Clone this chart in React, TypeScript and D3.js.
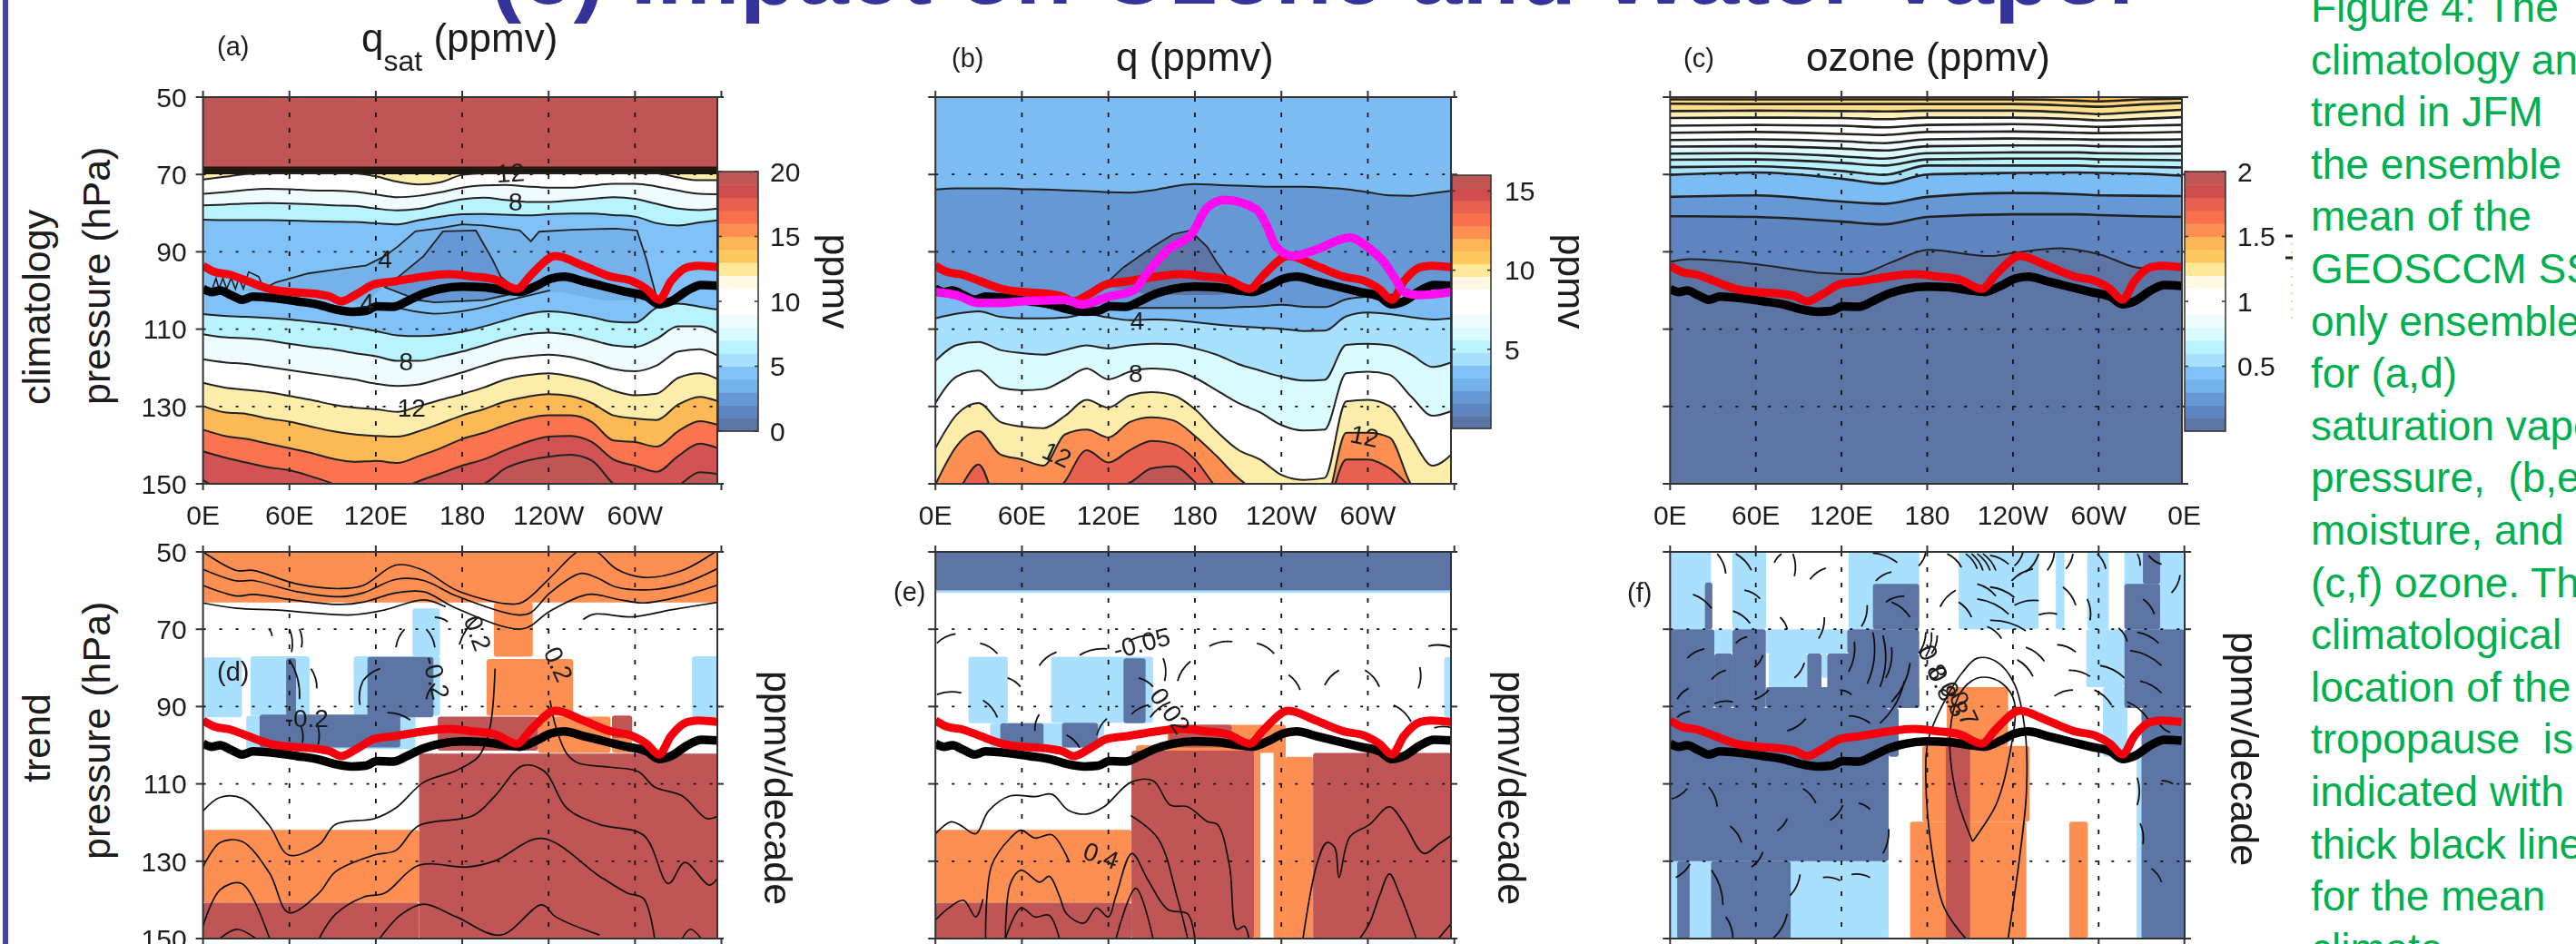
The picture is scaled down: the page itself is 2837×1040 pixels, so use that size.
import React from "react";
import * as d3 from "d3";

// longitude grid shared by the filled contour bands
const LON_GRID = [0, 15, 30, 45, 60, 75, 90, 105, 120, 135, 150, 165, 180, 195, 210, 225, 240, 255, 270, 285, 300, 315, 330, 345, 358];
const OZONE_GRID = [0, 60, 120, 150, 180, 240, 285, 300, 330, 358];

const X_LABELS = ["0E", "60E", "120E", "180", "120W", "60W", "0E"];
const P_TICKS = [50, 70, 90, 110, 130, 150];
const LON_TICKS = [0, 60, 120, 180, 240, 300, 360];

// colour bar levels, bottom to top
const LEVELS = ["#5c75a5", "#5f85c0", "#6598d5", "#74b2ea", "#80c2f8", "#a8e0ff", "#b9f3ff", "#d9fbff", "#eefcff", "#ffffff", "#ffffff", "#fff8e5", "#fee89a", "#fec860", "#fdb655", "#fd8f52", "#f96f4d", "#e8604f", "#cf4e4e", "#c05555"];

// tropopause, lon / hPa
const TROP_BLACK = [[0, 99.6], [6, 100.4], [11.8, 100], [19.5, 101.2], [27, 102.4], [34.8, 101.6], [50, 102], [65.3, 102.8], [80.6, 103.7], [92, 104.9], [103.5, 105.5], [113, 105.3], [120.7, 104.1], [132, 104.2], [141.7, 102.8], [153.2, 100.8], [164.6, 99.6], [180, 99], [195, 99.2], [210.5, 100], [220, 100.4], [231.5, 98.8], [241, 97], [250.6, 96.4], [264, 97.6], [279, 99], [294.5, 100.4], [308, 101.6], [316.7, 103.6], [325, 102.8], [336.5, 100], [346, 98.6], [358, 98.8]];
const TROP_RED = [[0, 93.6], [8, 95.2], [19.5, 96], [31, 97.6], [46.2, 99.6], [61.5, 100.4], [76.8, 100.8], [88.2, 101.6], [95.9, 102.8], [107.3, 100.8], [118.8, 98.4], [134, 97.6], [153.2, 96.4], [170.4, 95.8], [187.6, 96.4], [202.8, 97.2], [218.1, 99.6], [227.7, 96], [244.9, 91.1], [264, 93.6], [283, 96.4], [298.3, 97.6], [308, 99.6], [316.7, 102.4], [325, 97.6], [336.5, 94], [344.2, 93.6], [358, 94]];
const TROP_MAGENTA = [[0, 100.4], [14.3, 101.2], [30, 103.2], [45, 103.2], [60, 102.8], [75, 102.6], [90, 102.4], [101.4, 103.6], [120, 101.6], [137.3, 100], [147.5, 95.2], [161.2, 89.5], [178.3, 85.1], [188.5, 78.6], [200.5, 76.6], [222.7, 79], [229.5, 83], [236.3, 88.7], [248.3, 91.1], [263.6, 89.5], [287.5, 86.3], [299.5, 88.7], [311.4, 92.8], [320, 97.6], [325, 100.4], [335.4, 101.2], [358, 100.4]];

// (a) saturation contours on LON_GRID, hPa
const A_STACK = [68.2, 68.6, 69, 69.4, 69.7];
const A0 = LON_GRID.map(() => 69.7);
const A1 = [71.3, 70.6, 69.9, 69.7, 69.7, 69.7, 69.7, 69.7, 70.5, 71.9, 72.6, 72, 70.1, 69.7, 69.7, 69.7, 69.7, 69.7, 69.7, 69.7, 69.7, 69.7, 70.8, 71.5, 71.5];
const A2 = [75, 74.6, 74, 73.7, 73.8, 74.1, 74.2, 74.5, 75.2, 75.9, 75.5, 74.6, 73.4, 72.8, 72.7, 73.1, 73.4, 73.4, 72.9, 72.4, 72.4, 73.1, 74.2, 75, 75.1];
const A3 = [78, 77.8, 77.5, 77.4, 77.5, 77.7, 78, 78.1, 78.8, 79.3, 78.9, 77.6, 76.4, 76, 76.6, 77.1, 77.1, 76.7, 76.3, 75.9, 76.3, 77.6, 78.8, 79.2, 78.8];
const A4 = [81.7, 81.8, 81.8, 81.8, 81.9, 82.1, 82.2, 82.3, 82.6, 82.9, 81.8, 80.9, 80.3, 80.2, 80.4, 80.6, 80.3, 80.1, 80.1, 80.5, 80.9, 82.6, 83.2, 82.4, 81.8];
const A6 = [106.1, 106.6, 106.8, 107.1, 107.5, 108.1, 108.7, 109.5, 110.5, 111.6, 111.8, 111.5, 110.7, 109.3, 107.7, 106.1, 105.4, 105.9, 106.9, 108.1, 108.3, 104.5, 103.4, 104.2, 105];
const A7 = [111.3, 112.1, 112.4, 112.9, 113.8, 114.6, 115.2, 116.2, 117, 118.2, 118.2, 117.1, 115.8, 114.2, 112.5, 111.3, 110.9, 111.5, 112.8, 114.2, 114.6, 112.5, 109.3, 109.3, 111.2];
const A8 = [117.8, 118.6, 119, 119.8, 120.6, 121.4, 122.2, 123, 124.1, 124.7, 124.3, 122.8, 121.2, 119.4, 117.8, 117, 116.6, 117.2, 118.6, 120.3, 120.9, 119.4, 115.8, 115.2, 117];
const A9 = [123.9, 125.1, 125.7, 126.3, 127.3, 128.3, 129.5, 130.3, 130.7, 131.4, 129.9, 128.3, 126.8, 125.1, 123, 121.9, 121.4, 122.2, 123.6, 125.9, 127.1, 126.7, 122.6, 121.4, 123];
const A10 = [129.9, 131.5, 131.9, 133.1, 133.9, 135.2, 136.4, 137.2, 137.6, 137.8, 136.4, 134.4, 132.3, 130.7, 128.7, 127.5, 126.8, 127.3, 129.1, 132.3, 133.1, 133.5, 129.5, 127.5, 128.7];
const A11 = [136, 137.6, 138.4, 139.6, 140.8, 142, 143.5, 144.3, 144.1, 144.6, 142.8, 140.8, 138.4, 136.8, 134.8, 133.1, 132.3, 132.3, 134, 138.8, 139.2, 140.4, 136.4, 133.8, 134.8];
const A12 = [141.6, 143.2, 144.5, 145.7, 146.5, 148.1, 150, 153.3, 154.2, 151.7, 149.3, 147.3, 145.3, 143.7, 141.3, 139.2, 137.8, 137.6, 139.2, 143.7, 145.3, 146.9, 142.8, 139.6, 140.8];
const A13 = [149, 152, 153, 153, 153, 153, 153, 153, 153, 153, 153, 152, 151, 150, 146, 144, 143, 142.5, 144, 150, 153, 153, 150.5, 147, 147.5];
const A_POLY_OUTER = [[50, 98], [73, 95.6], [88, 94.8], [103.5, 94], [113, 93.6], [126.4, 91.1], [135, 88.7], [147.5, 84.7], [164.6, 83.9], [180, 82.9], [195, 83.2], [220, 84.5], [227.7, 87.3], [233.4, 84.8], [256.3, 84.3], [287, 84], [301.4, 84.5], [308, 92], [315.5, 102.5], [294.5, 102.5], [279, 102.6], [264, 101.6], [248.7, 100.4], [233.4, 100.4], [214, 101.6], [195, 102.9], [164.6, 103.1], [149.4, 102.9], [134, 99.2], [126, 98.8], [111, 104], [88, 100.9], [38.6, 100], [27, 100]];
const A_POLY_INNER = [[166.6, 84.7], [189.5, 84.5], [201, 92], [206.7, 96.4], [220, 100.4], [195, 102.5], [160.8, 103.1], [149.4, 102.5], [126.4, 99.2], [136, 96.4], [153.2, 91.1]];
const A_LINE = [[134, 104.4], [161, 106], [187.5, 104.9], [214, 102.4], [241, 100]];
const A_JAG = [[6, 100], [9, 96.8], [11, 99.6], [13.8, 96.8], [16.4, 99.6], [19.5, 96.8], [22.5, 99.6], [25, 96.8], [28, 99.6], [31.7, 95.2], [38.6, 96.4], [42.4, 99.6], [50, 98]];
const A_LABELS = [["12", 213.5, 69.5, -4], ["8", 217, 77, 0], ["4", 126.4, 91.8, 0], ["4", 114, 103, 0], ["8", 141, 118.2, 0], ["12", 144.8, 130.3, 0]];

// (b) specific humidity
const B1 = [73.9, 73.6, 73.6, 73.6, 73.8, 73.9, 74.1, 74.3, 74.6, 74.7, 74.1, 73.1, 72.5, 72.7, 72.9, 73.1, 73.2, 73.2, 73.4, 73.8, 74.6, 75.4, 75.5, 74.8, 74.2];
const B2 = [98.8, 100.8, 101.6, 102, 102.4, 102.8, 104.5, 105.7, 104.5, 104.5, 104.5, 104.5, 104.5, 104.5, 104.3, 104.1, 103.7, 104.2, 104.3, 102.3, 101.6, 101.2, 100.4, 99.2, 99.6];
const B3 = [107.2, 106, 105.4, 106.8, 107.2, 107.2, 107, 106.1, 107, 107.7, 107.5, 107.7, 108.2, 108.8, 109.3, 109.6, 109.9, 110.5, 110.4, 106.7, 105.7, 106.1, 106.9, 107.5, 107.2];
const B4 = [118.2, 114.1, 113.3, 115.4, 116.2, 116.6, 115.4, 114.2, 115, 114.2, 113.8, 113.9, 115, 116.6, 119, 120.7, 122.3, 123.3, 123.1, 114.1, 113.8, 114.2, 116.6, 119.8, 118.6];
const B5 = [129.1, 122.2, 120.7, 125.1, 125.8, 125.5, 123, 120.2, 123, 121, 120.2, 120.6, 122.6, 125.8, 129.1, 131.5, 134.8, 136.2, 136, 121.4, 121, 121.8, 127.4, 132.4, 131.2];
const B6 = [140.8, 132, 129.1, 134, 135.2, 135.6, 132.4, 128.3, 130.3, 127.1, 126.3, 127.1, 130.7, 136.4, 141.2, 143.7, 147.7, 149, 148.5, 128.7, 128.3, 129.9, 138, 145.3, 142.4];
const B7 = [150.2, 140.1, 136.4, 142.4, 143.7, 145.3, 137.2, 136, 138, 134, 132.8, 133.6, 137.6, 142.8, 148.5, 152.5, 155, 155, 155, 136.8, 136.8, 138, 150.2, 155, 155];
const B8 = [156, 152, 145, 156, 156, 156, 149.3, 141.3, 144.5, 141.3, 138.9, 139.7, 143.7, 151, 156, 156, 156, 156, 156, 143.7, 143.7, 146, 151, 156, 156];
const B9 = [156, 156, 156, 156, 156, 156, 156, 152, 151, 149.7, 146, 145.5, 149.5, 156, 156, 156, 156, 156, 156, 156, 156, 156, 156, 156, 156];
const B_POLY = [[116.8, 98.8], [130.5, 94], [151, 88.7], [164.6, 85.5], [176.6, 84.5], [188.5, 88.7], [195.3, 92.8], [203, 96.8], [216, 100.4], [195.3, 101.2], [168, 101.2], [147.5, 101.2], [135.6, 100]];
const B_LABELS = [["4", 140, 107.7, 0], ["8", 139, 121.4, 0], ["12", 84.4, 142.4, 25], ["12", 297.8, 137.6, 12]];

// (c) ozone contours on OZONE_GRID
const C1 = [50.6, 50.6, 50.6, 50.6, 50.6, 50.6, 50.9, 51.1, 50.6, 50.4];
const C2 = [51.7, 51.8, 51.8, 51.8, 51.8, 51.8, 52.3, 52.5, 51.9, 51.5];
const C3 = [53.6, 53.5, 53.6, 53.7, 53.5, 53.5, 54.1, 54.4, 53.8, 53.3];
const C4 = [55.4, 55.3, 55.4, 55.7, 55.3, 55.3, 55.7, 56, 55.6, 55.2];
const C5 = [57.4, 57.2, 57.4, 57.8, 57.2, 57, 57.5, 57.7, 57.4, 57.2];
const C6 = [59.2, 59, 59.5, 59.8, 59, 58.9, 59.2, 59.3, 59.2, 59];
const C7 = [61.1, 60.9, 61.4, 61.9, 60.9, 60.7, 60.9, 61, 61, 60.9];
const C8 = [62.8, 62.7, 63.3, 63.8, 62.7, 62.5, 62.5, 62.7, 62.8, 62.7];
const C9 = [64.6, 64.5, 65.3, 65.9, 64.5, 64.3, 64.3, 64.5, 64.6, 64.6];
const C10 = [66.2, 66.1, 67, 67.7, 66.1, 65.9, 65.9, 66.1, 66.2, 66.3];
const C11 = [68.1, 67.9, 69.1, 70.1, 67.7, 67.7, 67.7, 67.9, 68, 68.2];
const C12 = [70.1, 69.5, 71.1, 72.4, 70, 69.6, 69.5, 69.6, 69.8, 70.3];
const C13 = [75.8, 75.4, 77, 77.6, 75.8, 74.8, 75.1, 75.4, 75.5, 75.6];
const C14 = [80.8, 81, 82.2, 82.9, 81, 80.3, 80.3, 80.5, 80.8, 81];
const C15 = [[0, 92.6], [13.7, 91.9], [60, 93.2], [103.7, 95.4], [131.6, 95.8], [155, 92.7], [180.9, 89.5], [223.7, 91.1], [240, 90.3], [273, 89.1], [300.9, 90.7], [330, 94.2], [358, 93.1]];

// (d) q_sat trend: shading boxes [lon0, lon1, p0, p1] and contours
const D_ORANGE = [[0, 358, 50, 63.1], [202, 229, 63, 77.1], [197, 257, 77.7, 92.4], [232.6, 283, 92.6, 102], [284, 298, 92.4, 102], [0, 150, 121.9, 140.7]];
const D_RED = [[163, 232.6, 92.6, 101.4], [284, 298, 92.4, 98.2], [150, 358, 102.2, 150], [0, 150, 140.7, 150]];
const D_LIGHT = [[145.5, 164.6, 64.6, 77.1], [0, 27, 77.3, 92.8], [33, 74, 77, 92.4], [30, 147.5, 92.4, 101], [104.7, 164.6, 77, 92.4], [339.6, 358, 77, 92.8]];
const D_NAVY = [[57.7, 64.6, 77.5, 92.4], [114.2, 160, 77.2, 92.8], [39.3, 137, 92.1, 100.6]];
const D_LINES = [
  [[0, 50], [23.3, 54.8], [34.8, 54.8], [65.3, 58.3], [95.9, 59.5], [111.2, 58.7], [134, 53.4], [153.2, 54.8], [176, 59.9], [210.5, 63.4], [222, 63], [241, 56.7], [260, 50], [267, 49.6], [273.5, 50], [287, 54.4], [306, 56.6], [332.7, 54.8], [355.6, 50]],
  [[0, 54.5], [23.3, 57.5], [34.8, 57.4], [65.3, 60.3], [95.9, 61.6], [111.2, 60.6], [134, 57.1], [153.2, 57.4], [176, 61.4], [218, 66.3], [227.6, 65.7], [241, 60.6], [262, 55.6], [273.5, 56.7], [287, 59.1], [310, 59.8], [332.7, 58.3], [358, 54.2]],
  [[0, 58.7], [23.3, 61.4], [34.8, 61], [65.3, 62.6], [95.9, 63.6], [111.2, 63], [134, 60.6], [153.2, 60.3], [176, 64.6], [222, 69.9], [241, 65.3], [267.7, 61], [287, 62.2], [306, 63.2], [332.7, 61.4], [358, 58.5]],
  [[0, 63.2], [23.3, 64.6], [50, 65], [73, 65.7], [103.5, 66.3], [126.4, 65], [153.2, 62.4], [168.5, 64.2]],
  [[264, 67.5], [271.6, 66.1], [298.3, 66.8], [325, 65], [358, 63]],
  [[0, 117], [11.8, 113.5], [27, 113.7], [46.2, 120.9], [59.5, 128.4], [80.6, 125.7], [92, 120.5], [118.8, 119], [134, 116.2], [153.2, 109.6], [176, 106.5], [191.4, 102.9], [199, 95.9], [202.8, 80.2]],
  [[241, 88.4], [244.9, 95.1], [252.5, 102.1], [260, 104.5], [283, 105.7], [302.2, 106.8], [313.6, 110.8], [332.7, 113.1], [350, 119], [358, 118.2]],
  [[0, 131.5], [11.8, 125.2], [27, 124.9], [46.2, 133.1], [59.5, 143.3], [80.6, 138.2], [92, 132.7], [118.8, 128.4], [134, 127.2], [149.4, 120.9], [187.6, 118.2], [202.8, 113.1], [222, 105.3], [237.3, 106.8], [252.5, 116.2], [275.4, 120.5], [306, 123.3], [323.2, 135.8], [334.6, 130.3], [351.7, 136.2], [358, 133.9]],
  [[0, 146.8], [11.8, 137.4], [27, 135.8], [46.2, 150]],
  [[80.6, 150], [92, 143.7], [111.2, 139.3], [126.4, 138.2], [149.4, 131.1], [183.8, 131.5], [202.8, 129.9], [235.3, 124.1], [275.4, 133.9], [294.5, 138.2], [306, 139.7], [313.6, 150]],
  [[122.6, 150], [137.9, 143.7], [153.2, 141.1], [176, 144.4], [206.7, 149.1], [235.3, 141.3], [245, 144.4], [275.4, 149.1]],
  [[332.7, 150], [338.5, 147.6], [346, 150]],
  [[11.8, 150], [23.3, 147.6], [36.7, 150]],
];
const D_DASHES = [[46, 70, 48, 71.8], [60, 70, 61.5, 75.9], [67, 70, 68.4, 74.7], [134, 74.7, 140, 70], [155, 70, 161, 74.7], [161, 66.9, 170, 68.1], [178, 74, 191, 66.9], [75, 80.2, 79, 85.3], [60, 77.9, 67, 88.1], [109, 89.6, 111, 83.4], [111, 83.4, 123, 80.2], [155, 88.1, 161, 84.1], [128, 91.6, 144, 93.5], [68, 95.1, 69, 99.4], [79, 94.3, 80, 99.8]];
const D_LABELS = [["0.2", 191, 71, 70], ["0.2", 247, 79, 65], ["-0.2", 162, 82.5, 75], ["-0.2", 72, 93, 0]];

// (e) q trend
const E_ORANGE = [[161, 243, 94.7, 102], [139, 161, 100, 102], [221, 225.4, 101.4, 150], [234.6, 243, 94.7, 150], [243, 262, 103, 150], [0, 136, 121.9, 140.7]];
const E_RED = [[162, 205.6, 94.7, 100.6], [136, 221, 101.4, 150], [262, 358, 102, 150], [0, 136, 140.7, 150]];
const E_LIGHT = [[0, 358, 60, 60.6], [22.9, 50.2, 77.1, 94.3], [80.3, 151, 77.1, 94.2], [38, 117, 94.3, 100.6], [353, 358, 77.2, 92.8]];
const E_NAVY = [[0, 358, 50, 60], [130.5, 145.8, 77.5, 94.3], [45, 75, 94.3, 100.6], [87.8, 112.7, 94.2, 100.6]];
const E_LINES = [
  [[0, 122.9], [10.9, 119.8], [17.8, 120.8], [28, 122.9], [36.9, 117], [52, 113.1], [69.4, 113.3], [81, 112.7], [91.7, 116.7], [105, 117.8], [117, 115.9], [135.6, 109.6], [151, 109.2], [163, 115.5], [175, 115.9], [189, 119.8], [195.7, 120.5], [204, 131.2], [209, 147.6], [214.3, 146.8], [217.5, 150]],
  [[34.8, 150], [39, 131.1], [52, 124], [59.4, 122], [69, 124], [81, 123.2], [93, 130.3]],
  [[48.5, 150], [52, 135.8], [59.4, 132.3], [72.2, 135.4], [79, 133.9], [86, 139], [91, 143.6], [103, 146], [111.7, 142.1], [120, 144.4], [125.2, 139], [136.3, 128], [147.5, 134.9], [161.2, 142.5], [174.9, 143.6], [180, 150]],
  [[0, 145.2], [9.2, 142.1], [19.5, 140.1], [28, 144.4], [33, 139.8]],
  [[48.5, 150], [59.4, 142.1], [69, 144.4], [79, 144], [86, 150]],
  [[125.3, 150], [139, 137], [151, 150]],
  [[135.6, 118.2], [154.4, 124.1], [168, 139.7], [175, 150]],
  [[255, 150], [265, 130.3], [271.5, 125.2], [277, 126.4], [280, 134.2], [287.5, 123.7], [301.2, 120.5], [315, 115.9], [325, 120.2], [338.8, 128], [349, 125.6], [358, 123.3]],
  [[294.4, 150], [301.2, 146], [308, 139], [315, 133.3], [321.7, 138.2], [333.6, 150]],
  [[349, 150], [358, 146]],
];
const E_DASHES = [[1, 73.6, 14, 71.2], [31, 73.6, 43, 76.3], [72, 79.4, 84, 75.9], [100, 76.7, 119, 75.1], [134, 73.2, 151, 71.6], [158, 77.5, 159, 83.4], [168, 83.4, 177, 78.3], [190, 74.4, 206, 73.2], [223, 73.6, 235, 76.3], [245, 81.8, 253, 85.7], [270, 84.5, 280, 80.6], [298, 80.6, 308, 84.9], [336, 79.8, 335, 85.3], [342, 74.4, 358, 74.7], [1, 86.9, 18, 86.5], [50, 82.6, 59, 84.9], [33, 88.4, 43, 92.8], [69, 96.3, 72, 92], [91, 97.4, 100, 100.6], [112, 97.4, 119, 93.1], [141, 82.6, 151, 84.9], [149, 92.8, 163, 88.8], [318, 89.6, 330, 93.9], [346, 95.5, 358, 95.5], [136, 92, 148, 89.6]];
const E_LABELS = [["-0.05", 143, 73.5, -15], ["0.02", 163, 91, 55], ["0.4", 115, 128.5, 20]];

// (f) ozone trend
const F_LIGHT = [[0, 28.7, 50, 70], [43.7, 67.3, 50, 70], [125, 174.4, 50, 70], [202, 258, 50, 70], [270, 276, 50, 70], [292, 307, 50, 70], [318, 360, 50, 70], [31, 43.7, 70, 76.3], [67, 124, 70, 76.3], [69, 96, 76.3, 85], [106, 110, 76.3, 82.6], [291.4, 318, 70, 85], [303, 320, 85, 103], [326.6, 331, 103, 150], [0, 153, 130, 150]];
const F_NAVY_TOP = [[24.4, 29.6, 57.9, 70], [142, 174.4, 58.3, 70], [318, 343, 58.3, 70], [331, 343, 50, 58.3]];
const F_NAVY = [[0, 31, 70, 90.4], [43.7, 67, 70, 90.4], [31, 43.7, 76.3, 90.4], [96, 106, 76.3, 90.4], [67, 174.4, 85, 90.4], [110, 174.4, 76.3, 90.4], [124, 174.4, 70, 76.3], [0, 153, 90.4, 130], [153, 160, 90.4, 103], [318, 360, 70, 90.4], [330, 360, 90.4, 150], [5, 13.7, 130, 150], [28.7, 84.4, 130, 150]];
const F_ORANGE = [[193.7, 236.6, 85, 100.2], [176.6, 251.6, 100.2, 119.8], [168, 249.4, 119.8, 150], [279.4, 292.3, 119.8, 150]];
const F_RED = [[193, 210, 100.2, 150]];
const F_LINES = [
  [[207, 150], [192, 142.1], [183.5, 128], [179, 108.4], [181, 98.2], [194, 87.3], [205, 81], [215, 77.5], [228, 78.3], [241, 84.1], [248.6, 96.7], [249.4, 112.3], [245, 128], [236.6, 150]],
  [[211.7, 124.9], [200, 112.3], [196, 96.7], [202, 87.3], [211, 83.4], [220, 82.4], [232.7, 84.1], [241, 88.8], [236.6, 104.5], [228, 115.5], [211.7, 124.9]],
];
const F_DASHES = [[33, 50.5, 39, 55.6], [46, 50.5, 57, 54.8], [73, 52.8, 78, 50.5], [86, 50.5, 87, 56.3], [98, 57.1, 109, 54.2], [144, 57.5, 155, 55.2], [142, 50.3, 159, 52.8], [179, 50.1, 174, 53.6], [194, 50.5, 204, 54], [207, 50.5, 215, 54.4], [211, 50.5, 219, 54.8], [215, 50.5, 224, 54.8], [219, 50.5, 228, 54.8], [224, 50.9, 237, 53.2], [247, 50.1, 241, 53.6], [258, 50.5, 249, 55.2], [239, 57.5, 254, 54.4], [269, 50.1, 264, 54.8], [282, 50.5, 277, 54.4], [299, 50.5, 305, 54.4], [327, 50.5, 329, 53.6], [344, 53.2, 335, 50.9], [357, 56, 351, 60.6], [16, 61, 29, 64.6], [52, 59.9, 63, 62.1], [44, 65.3, 56, 68.5], [77, 66.9, 82, 70], [108, 66.9, 104, 72.4], [138, 63.8, 134, 69.3], [151, 63, 164, 61.4], [155, 63, 168, 66.9], [189, 64.2, 200, 59.9], [202, 63, 211, 66.9], [215, 58.3, 228, 61.4], [224, 59.1, 241, 61.8], [215, 62.2, 237, 66.1], [241, 63.8, 258, 62.6], [258, 66.3, 271, 66.1], [275, 59.1, 284, 63.8], [292, 62.2, 294, 67.7], [331, 62.2, 339, 66.1], [224, 67.7, 249, 70.4], [222, 69.3, 232, 72.4], [314, 69.7, 320, 73.2], [327, 70.8, 342, 73.6], [322, 75.5, 344, 79.4], [271, 74, 284, 75.9], [249, 74.7, 262, 78.3], [243, 77.9, 254, 82.2], [279, 80.6, 294, 82.2], [301, 79.4, 318, 82.6], [297, 85.7, 309, 89.6], [329, 83.4, 344, 86.5], [320, 88.8, 335, 93.5], [350, 96.7, 342, 94.3], [12, 77.5, 24, 75.1], [46, 73.6, 54, 72], [29, 83, 39, 80.6], [65, 76.7, 59, 79.8], [94, 78.7, 87, 82.6], [69, 85.7, 59, 88.1], [31, 89.2, 44, 88.8], [5, 88.1, 13, 85.3], [119, 85.7, 127, 86.9], [129, 73.2, 125, 81], [142, 70.8, 138, 84.1], [149, 71.6, 147, 84.9], [155, 74.7, 151, 82.6], [125, 92.4, 140, 94.3], [95, 93.1, 82, 96.3], [5, 92.8, 14, 91.2], [179, 70.8, 174, 76.3], [183, 70.8, 179, 77.1], [187, 71.6, 183, 76.3], [168, 78.7, 155, 88.8], [164, 83.4, 147, 94.3], [269, 87.3, 282, 85.7], [12, 111.2, 1, 113.9], [27, 110.8, 33, 115.9], [93, 111.2, 102, 115], [132, 115, 140, 116.6], [121, 115.5, 112, 119.4], [82, 119, 75, 122.1], [42, 120.9, 50, 125.2], [65, 127.6, 57, 131.5], [14, 130.7, 4, 134.2], [29, 132.3, 37, 141.3], [91, 133.4, 84, 138.9], [107, 134.2, 119, 135], [127, 133.4, 140, 134.2], [39, 144.4, 44, 150], [82, 143.6, 72, 150], [327, 108.4, 327, 115.5], [329, 120.2, 331, 125.6], [337, 131.9, 344, 135.4], [344, 109.2, 352, 110], [153, 121.7, 149, 128]];
const F_LABELS = [["0.8", 184, 78.5, 65], ["0.8", 191, 84, 65], ["0.8", 199, 88, 65], ["0.7", 206, 90.5, 65]];

const CAPTION = ["Figure 4: The", "climatology and", "trend in JFM", "the ensemble", "mean of the", "GEOSCCM SST", "only ensemble", "for (a,d)", "saturation vapor", "pressure,  (b,e)", "moisture, and", "(c,f) ozone. The", "climatological", "location of the", "tropopause  is", "indicated with", "thick black line", "for the mean", "climate"];

const FONT = "'Liberation Sans', Arial, sans-serif";
const ORANGE = "#fd8f52", RED = "#c05555", LIGHT = "#aae0ff", NAVY = "#5c75a5";
const INK = "#1c1c1c";

const zip = (grid: number[], ps: number[]) => grid.map((g, i) => [g, ps[i]] as [number, number]);

function Panel({ left, top, step, right, id, children, labels }: any) {
  const x = d3.scaleLinear().domain([0, 360]).range([left, left + 6 * step]);
  const y = d3.scaleLinear().domain([50, 150]).range([top, top + 426]);
  const ctx = {
    x,
    y,
    smooth: d3.line<number[]>().x(d => x(d[0])).y(d => y(d[1])).curve(d3.curveMonotoneX),
    round: d3.line<number[]>().x(d => x(d[0])).y(d => y(d[1])).curve(d3.curveCatmullRom.alpha(0.5)),
    below: d3.area<number[]>().x(d => x(d[0])).y0(y(165)).y1(d => y(d[1])).curve(d3.curveMonotoneX),
  };
  const bottom = y(150);
  return (
    <g>
      <clipPath id={id}><rect x={left} y={top} width={right - left} height={426} /></clipPath>
      <g clipPath={`url(#${id})`}>
        <rect x={left} y={top} width={right - left} height={426} fill="#fff" />
        {children.fills(ctx)}
        {LON_TICKS.slice(1, 6).map(t => (
          <line key={t} x1={x(t)} x2={x(t)} y1={top} y2={bottom} stroke="#111" strokeWidth={1.8} strokeDasharray="5 12" />
        ))}
        {P_TICKS.slice(1, 5).map(p => (
          <line key={p} x1={left} x2={right} y1={y(p)} y2={y(p)} stroke="#111" strokeWidth={1.8} strokeDasharray="3 15" />
        ))}
        {children.lines(ctx)}
        <path d={ctx.smooth(TROP_BLACK) || ""} fill="none" stroke="#000" strokeWidth={9.5} />
        {children.over ? null : <path d={ctx.smooth(TROP_RED) || ""} fill="none" stroke="#f5000c" strokeWidth={9} />}
        {children.over ? children.over(ctx) : null}
      </g>
      <rect x={left} y={top} width={right - left} height={426} fill="none" stroke="#333" strokeWidth={2} />
      {LON_TICKS.slice(0, right - left > 565 ? 7 : 6).map(t => (
        <g key={t} stroke="#333" strokeWidth={2}>
          <line x1={x(t)} x2={x(t)} y1={top - 7} y2={top} />
          <line x1={x(t)} x2={x(t)} y1={bottom} y2={bottom + 7} />
        </g>
      ))}
      {P_TICKS.map(p => (
        <g key={p} stroke="#333" strokeWidth={2}>
          <line x1={left - 8} x2={left} y1={y(p)} y2={y(p)} />
          <line x1={right} x2={right + 7} y1={y(p)} y2={y(p)} />
        </g>
      ))}
      {labels ? P_TICKS.map(p => (
        <text key={p} x={left - 18} y={y(p)} dy="0.36em" textAnchor="end" fontSize={30} fill={INK}>{p}</text>
      )) : null}
      {children.labels.map((d: any, i: number) => (
        <text key={i} transform={`translate(${x(d[1])},${y(d[2])}) rotate(${d[3]})`} textAnchor="middle" dy="0.36em" fontSize={28} fill={INK}>{d[0]}</text>
      ))}
    </g>
  );
}

function Boxes({ ctx, boxes, fill }: any) {
  return boxes.map((b: number[], i: number) => (
    <rect key={i} x={ctx.x(b[0])} y={ctx.y(b[2])} width={ctx.x(b[1]) - ctx.x(b[0])} height={ctx.y(b[3]) - ctx.y(b[2])} rx={3} fill={fill} />
  ));
}

function ColorBar({ x, top, height, width, max, ticks, labelX }: any) {
  const y = d3.scaleLinear().domain([0, max]).range([top + height, top]);
  const band = height / LEVELS.length;
  return (
    <g>
      {LEVELS.map((c, i) => (
        <rect key={i} x={x} y={top + height - (i + 1) * band} width={width} height={band + 0.5} fill={c} />
      ))}
      <rect x={x} y={top} width={width} height={height} fill="none" stroke="#333" strokeWidth={1.5} />
      {ticks.map((t: number) => (
        <g key={t} stroke="#333" strokeWidth={1.5}>
          <line x1={x} x2={x + 4} y1={y(t)} y2={y(t)} />
          <line x1={x + width - 4} x2={x + width} y1={y(t)} y2={y(t)} />
        </g>
      ))}
      {ticks.map((t: number) => (
        <text key={t} x={labelX} y={y(t)} dy="0.36em" fontSize={30} fill={INK}>{t}</text>
      ))}
    </g>
  );
}

export default function App() {
  const bandFills = (ctx: any, grid: number[], rows: any[]) =>
    rows.map((r, i) => <path key={i} d={ctx.below(zip(grid, r[0])) || ""} fill={r[1]} />);
  const bandLines = (ctx: any, grid: number[], rows: number[][], w = 2) =>
    rows.map((r, i) => <path key={i} d={ctx.smooth(zip(grid, r)) || ""} fill="none" stroke="#222" strokeWidth={w} />);
  // negative contours come out as short curved strokes
  const stroke = (ctx: any, d: number[]) => {
    const [x1, y1, x2, y2] = [ctx.x(d[0]), ctx.y(d[1]), ctx.x(d[2]), ctx.y(d[3])];
    const cx = (x1 + x2) / 2 + (y2 - y1) * 0.16;
    const cy = (y1 + y2) / 2 - (x2 - x1) * 0.16;
    return `M${x1},${y1}Q${cx},${cy} ${x2},${y2}`;
  };
  const trendLines = (ctx: any, lines: number[][][], dashes: number[][]) => (
    <g>
      {lines.map((l, i) => <path key={i} d={ctx.round(l) || ""} fill="none" stroke="#111" strokeWidth={1.7} />)}
      {dashes.map((d, i) => <path key={i} d={stroke(ctx, d)} fill="none" stroke="#111" strokeWidth={1.8} />)}
    </g>
  );

  const panelA = {
    fills: (ctx: any) => (
      <g>
        <rect x={ctx.x(0)} y={ctx.y(50)} width={580} height={426} fill={LEVELS[19]} />
        {bandFills(ctx, LON_GRID, [[A0, "#feedaa"], [A1, "#fff"], [A2, "#eefcff"], [A3, "#b9f3ff"], [A4, "#80c2f8"]])}
        <path d={`M${A_POLY_OUTER.map(d => `${ctx.x(d[0])},${ctx.y(d[1])}`).join("L")}Z`} fill="#74b2ea" />
        <path d={`M${A_POLY_INNER.map(d => `${ctx.x(d[0])},${ctx.y(d[1])}`).join("L")}Z`} fill="#6598d5" />
        {bandFills(ctx, LON_GRID, [[A6, "#b9f3ff"], [A7, "#eefcff"], [A8, "#fff"], [A9, "#feedaa"], [A10, "#fdb955"], [A11, "#fc7350"], [A12, "#d25252"], [A13, "#c05555"]])}
      </g>
    ),
    lines: (ctx: any) => (
      <g>
        {A_STACK.map(p => <line key={p} x1={ctx.x(0)} x2={ctx.x(358)} y1={ctx.y(p)} y2={ctx.y(p)} stroke="#1d1611" strokeWidth={2} />)}
        {bandLines(ctx, LON_GRID, [A1, A2, A3, A4, A6, A7, A8, A9, A10, A11, A12, A13])}
        <path d={`M${A_POLY_OUTER.slice(0, 19).map(d => `${ctx.x(d[0])},${ctx.y(d[1])}`).join("L")}`} fill="none" stroke="#222" strokeWidth={1.8} />
        <path d={`M${A_POLY_INNER.map(d => `${ctx.x(d[0])},${ctx.y(d[1])}`).join("L")}Z`} fill="none" stroke="#222" strokeWidth={1.8} />
        <path d={ctx.smooth(A_LINE) || ""} fill="none" stroke="#222" strokeWidth={1.8} />
        <path d={`M${A_JAG.map(d => `${ctx.x(d[0])},${ctx.y(d[1])}`).join("L")}`} fill="none" stroke="#222" strokeWidth={1.6} />
      </g>
    ),
    labels: A_LABELS,
  };
  const panelB = {
    fills: (ctx: any) => (
      <g>
        <rect x={ctx.x(0)} y={ctx.y(50)} width={580} height={426} fill="#7cbcf2" />
        {bandFills(ctx, LON_GRID, [[B1, "#6598d5"]])}
        <path d={`M${B_POLY.map(d => `${ctx.x(d[0])},${ctx.y(d[1])}`).join("L")}Z`} fill={NAVY} />
        {bandFills(ctx, LON_GRID, [[B2, "#7cbcf2"], [B3, "#a8e0ff"], [B4, "#d9fbff"], [B5, "#fff"], [B6, "#feedaa"], [B7, "#fd8f52"], [B8, "#e8604f"], [B9, RED]])}
      </g>
    ),
    lines: (ctx: any) => (
      <g>
        {bandLines(ctx, LON_GRID, [B1, B2, B3, B4, B5, B6, B7, B8, B9])}
        <path d={`M${B_POLY.slice(0, 9).map(d => `${ctx.x(d[0])},${ctx.y(d[1])}`).join("L")}`} fill="none" stroke="#222" strokeWidth={1.8} />
      </g>
    ),
    over: (ctx: any) => (
      <g>
        <path d={ctx.smooth(TROP_RED) || ""} fill="none" stroke="#f5000c" strokeWidth={9} />
        <path d={ctx.smooth(TROP_MAGENTA) || ""} fill="none" stroke="#fb08f0" strokeWidth={9.5} />
      </g>
    ),
    labels: B_LABELS,
  };
  const ozoneRows: any[] = [[C1, "#fed77d"], [C2, "#fee08a"], [C3, "#fff0b8"], [C4, "#fff"], [C5, "#fff"], [C6, "#fff"], [C7, "#eefcff"], [C8, "#dcfaff"], [C9, "#c8f6ff"], [C10, "#b9f3ff"], [C11, "#a8e0ff"], [C12, "#7abcf3"], [C13, "#6598d5"], [C14, "#5f85c0"]];
  const panelC = {
    fills: (ctx: any) => (
      <g>
        <rect x={ctx.x(0)} y={ctx.y(50)} width={580} height={426} fill="#fdb955" />
        {bandFills(ctx, OZONE_GRID, ozoneRows)}
        <path d={ctx.below(C15) || ""} fill={NAVY} />
      </g>
    ),
    lines: (ctx: any) => (
      <g>
        {bandLines(ctx, OZONE_GRID, ozoneRows.map(r => r[0]), 2.6)}
        <path d={ctx.smooth(C15) || ""} fill="none" stroke="#222" strokeWidth={2} />
      </g>
    ),
    labels: [],
  };
  const trendPanel = (orange: any, red: any, light: any, navy: any, lines: any, dashes: any, labels: any, extraNavy: any = []) => ({
    fills: (ctx: any) => (
      <g>
        <Boxes ctx={ctx} boxes={light} fill={LIGHT} />
        <Boxes ctx={ctx} boxes={navy} fill={NAVY} />
        <Boxes ctx={ctx} boxes={extraNavy} fill={NAVY} />
        <Boxes ctx={ctx} boxes={orange} fill={ORANGE} />
        <Boxes ctx={ctx} boxes={red} fill={RED} />
      </g>
    ),
    lines: (ctx: any) => trendLines(ctx, lines, dashes),
    labels,
  });

  const LEFTS = [223.6, 1030.2, 1839.3];
  const STEPS = [95.15, 95.25, 94.4];
  const RIGHTS = [790, 1598, 2403];

  return (
    <svg width={2837} height={1040} style={{ position: "absolute", left: 0, top: 0, background: "#fff" }} fontFamily={FONT}>
      <defs>
        <filter id="soft" x="0" y="0" width="100%" height="100%"><feGaussianBlur stdDeviation="0.7" /></filter>
      </defs>
      <rect x={3} y={0} width={6} height={1040} fill="#4444aa" />
      <text x={540} y={4} fontSize={103} fontWeight={700} fill="#333399">(c) Impact on Ozone and Water Vapor</text>

      <g filter="url(#soft)">
        <Panel id="pa" left={LEFTS[0]} step={STEPS[0]} right={RIGHTS[0]} top={107} labels children={panelA} />
        <Panel id="pb" left={LEFTS[1]} step={STEPS[1]} right={RIGHTS[1]} top={107} children={panelB} />
        <Panel id="pc" left={LEFTS[2]} step={STEPS[2]} right={RIGHTS[2]} top={107} children={panelC} />
        <Panel id="pd" left={LEFTS[0]} step={STEPS[0]} right={RIGHTS[0]} top={608} labels children={trendPanel(D_ORANGE, D_RED, D_LIGHT, D_NAVY, D_LINES, D_DASHES, D_LABELS)} />
        <Panel id="pe" left={LEFTS[1]} step={STEPS[1]} right={RIGHTS[1]} top={608} children={trendPanel(E_ORANGE, E_RED, E_LIGHT, E_NAVY, E_LINES, E_DASHES, E_LABELS)} />
        <Panel id="pf" left={LEFTS[2]} step={STEPS[2]} right={2406} top={608} children={trendPanel(F_ORANGE, F_RED, F_LIGHT, F_NAVY, F_LINES, F_DASHES, F_LABELS, F_NAVY_TOP)} />

        <ColorBar x={791} top={189} height={286} width={44} max={20} ticks={[0, 5, 10, 15, 20]} labelX={848} />
        <ColorBar x={1599} top={193} height={279} width={43} max={16} ticks={[5, 10, 15]} labelX={1657} />
        <ColorBar x={2406} top={189} height={286} width={45} max={2} ticks={[0.5, 1, 1.5, 2]} labelX={2464} />
        <g stroke="#222" strokeWidth={3}>
          <line x1={2517} x2={2525} y1={260} y2={260} />
          <line x1={2517} x2={2525} y1={284} y2={284} />
        </g>
        <line x1={2524} x2={2524} y1={268} y2={355} stroke="#f3c48a" strokeWidth={1.5} strokeDasharray="2 7" />
      </g>

      {LEFTS.map((l, c) =>
        X_LABELS.slice(0, c === 2 ? 7 : 6).map((t, i) => (
          <text key={`${c}-${i}`} x={l + i * STEPS[c]} y={578} textAnchor="middle" fontSize={30} fill={INK}>{t}</text>
        ))
      )}

      <text x={239} y={61} fontSize={29} fill={INK}>(a)</text>
      <text x={1048} y={74} fontSize={29} fill={INK}>(b)</text>
      <text x={1854} y={74} fontSize={29} fill={INK}>(c)</text>
      <text x={239} y={750} fontSize={29} fill={INK}>(d)</text>
      <text x={984} y={662} fontSize={29} fill={INK}>(e)</text>
      <text x={1792} y={663} fontSize={29} fill={INK}>(f)</text>

      <text x={398} y={57} fontSize={44} fill={INK}>q<tspan fontSize={32} dy={21}>sat</tspan><tspan dy={-21}> (ppmv)</tspan></text>
      <text x={1229} y={78} fontSize={44} fill={INK}>q (ppmv)</text>
      <text x={1989} y={78} fontSize={44} fill={INK}>ozone (ppmv)</text>

      <text transform="translate(55,446) rotate(-90)" fontSize={43} fill={INK}>climatology</text>
      <text transform="translate(121,446) rotate(-90)" fontSize={43} fill={INK}>pressure (hPa)</text>
      <text transform="translate(55,862) rotate(-90)" fontSize={43} fill={INK}>trend</text>
      <text transform="translate(121,947) rotate(-90)" fontSize={43} fill={INK}>pressure (hPa)</text>

      <text transform="translate(906,310) rotate(90)" textAnchor="middle" fontSize={43} fill={INK}>ppmv</text>
      <text transform="translate(1716,310) rotate(90)" textAnchor="middle" fontSize={43} fill={INK}>ppmv</text>
      <text transform="translate(842,868) rotate(90)" textAnchor="middle" fontSize={43} fill={INK}>ppmv/decade</text>
      <text transform="translate(1650,868) rotate(90)" textAnchor="middle" fontSize={43} fill={INK}>ppmv/decade</text>
      <text transform="translate(2457,825) rotate(90)" textAnchor="middle" fontSize={43} fill={INK}>ppmv/decade</text>

      {CAPTION.map((t, i) => (
        <text key={i} x={2545} y={24 + i * 57.6} fontSize={46} fill="#00b050" style={{ whiteSpace: "pre" }}>{t}</text>
      ))}
    </svg>
  );
}
